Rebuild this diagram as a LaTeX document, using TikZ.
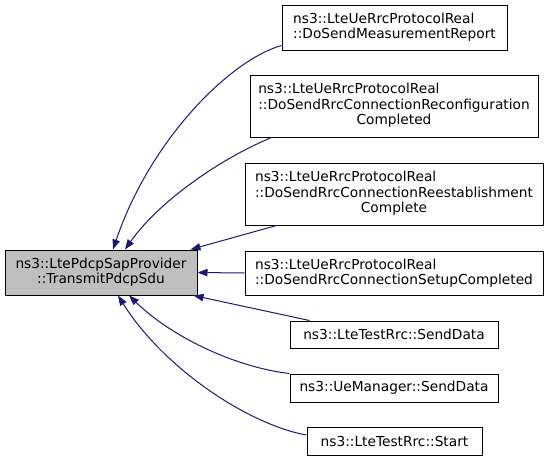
\documentclass[tikz,border=0pt]{standalone}
\usepackage{fontspec}
\setmainfont{DejaVu Sans}
\usetikzlibrary{arrows.meta, calc}
\definecolor{callblue}{HTML}{191970}
\tikzset{
  fn/.style={draw=black, line width=0.75pt, rectangle, inner sep=0pt, align=left,
    font=\fontsize{10.3}{11.4}\selectfont},
  mainfn/.style={fn, fill=gray!50, align=center},
  call/.style={draw=callblue, line width=0.75pt, ->, >={Triangle[length=7.5pt,width=5.5pt]}, fill=none},
}

\begin{document}
\begin{tikzpicture}[x=0.75pt, y=-0.75pt]
                        \useasboundingbox (0,0) rectangle (549,461);

                        \node[mainfn, minimum width=144pt, minimum height=33.75pt] (main) at (101,272.5)
                            {ns3::LtePdcpSapProvider\\::TransmitPdcpSdu};

                        \node[fn, minimum width=168.75pt, minimum height=33.75pt] (report) at (394.5,27.5)
                            {ns3::LteUeRrcProtocolReal\\::DoSendMeasurementReport};
                        \node[fn, minimum width=216pt, minimum height=46.5pt] (reconf) at (394,106)
                            {\begin{tabular}{@{}l@{}}ns3::LteUeRrcProtocolReal\\::DoSendRrcConnectionReconfiguration\\\multicolumn{1}{@{}c@{}}{Completed}\end{tabular}};
                        \node[fn, minimum width=223.5pt, minimum height=46.5pt] (reest) at (394,194)
                            {\begin{tabular}{@{}l@{}}ns3::LteUeRrcProtocolReal\\::DoSendRrcConnectionReestablishment\\\multicolumn{1}{@{}c@{}}{Complete}\end{tabular}};
                        \node[fn, minimum width=223.5pt, minimum height=33pt] (setup) at (394,273)
                            {ns3::LteUeRrcProtocolReal\\::DoSendRrcConnectionSetupCompleted};
                        \node[fn, minimum width=156pt, minimum height=20.25pt] (testsend) at (394,334.5)
                            {ns3::LteTestRrc::SendData};
                        \node[fn, minimum width=156pt, minimum height=21pt] (uesend) at (394,388)
                            {ns3::UeManager::SendData};
                        \node[fn, minimum width=131.25pt, minimum height=21pt] (teststart) at (394.5,441)
                            {ns3::LteTestRrc::Start};

                        \draw[call] ($(report.south west)+(0,-5)$) .. controls (230,60) and (150,140) .. ($(main.north)+(12,0)$);
                        \draw[call] ($(reconf.south west)+(22,0)$) .. controls (222,158) and (160,200) .. ($(main.north)+(24,0)$);
                        \draw[call] ($(reest.south west)+(32,0)$) -- ($(main.north east)+(-7,0)$);
                        \draw[call] (setup.west) -- (main.east);
                        \draw[call] ($(testsend.north west)+(20,0)$) -- ($(main.south east)+(-4,0)$);
                        \draw[call] (uesend.north west) .. controls (240,368) and (175,340) .. ($(main.south)+(28,0)$);
                        \draw[call] ($(teststart.west)+(0,-6)$) .. controls (250,425) and (165,370) .. ($(main.south)+(17,0)$);
\end{tikzpicture}
\end{document}
